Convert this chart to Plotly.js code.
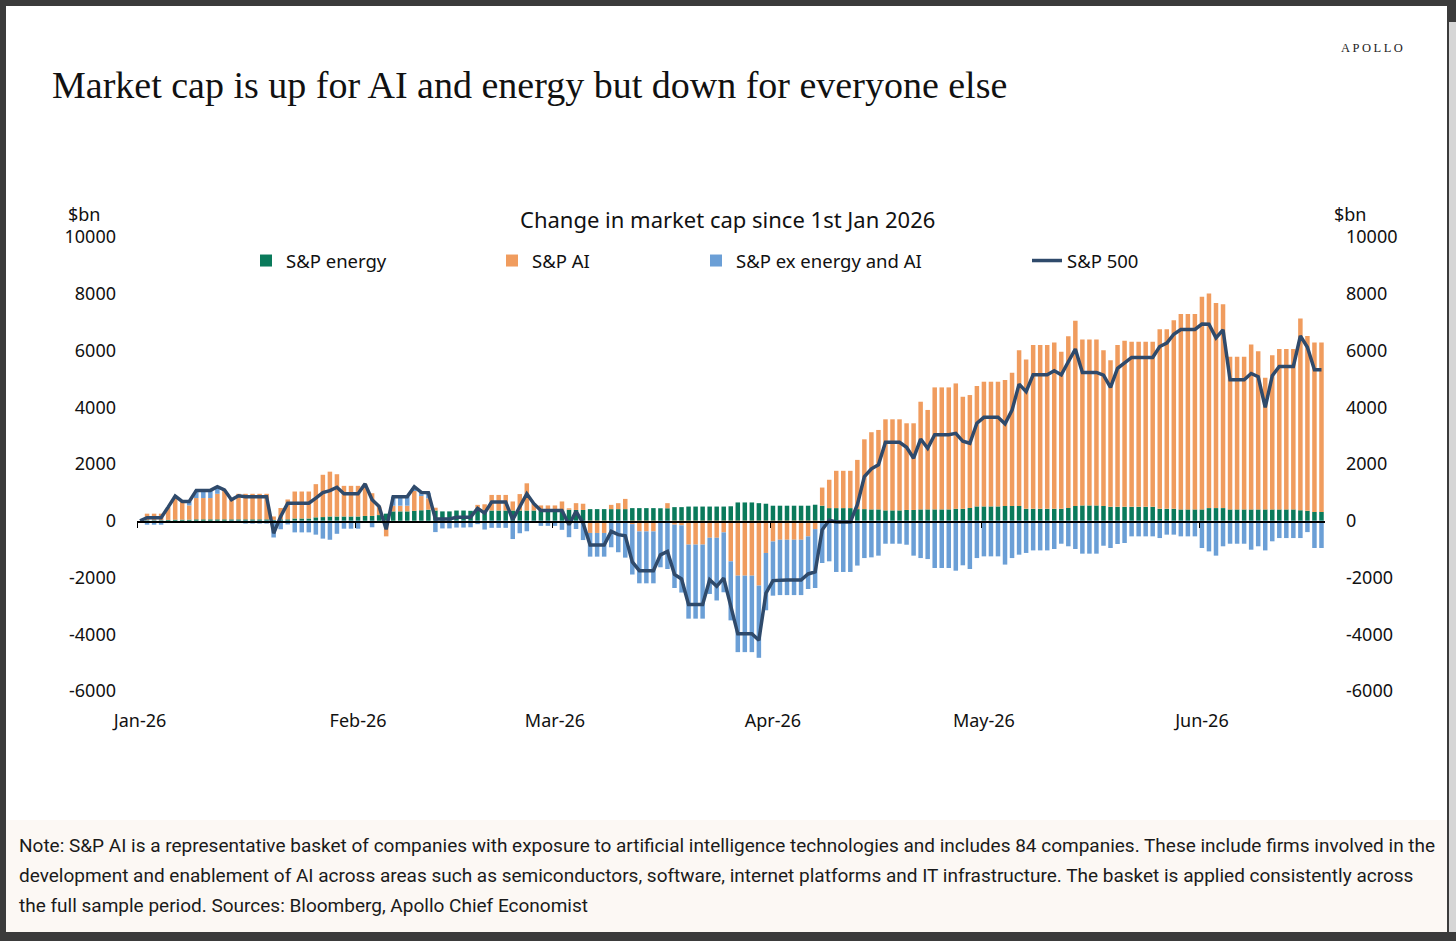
<!DOCTYPE html>
<html>
<head>
<meta charset="utf-8">
<script src="https://cdn.plot.ly/plotly-3.0.1.min.js"></script>
<style>
  html, body { margin: 0; padding: 0; background: #3b3b3b; }
  #chart { width: 1456px; height: 941px; }
</style>
</head>
<body>
<div id="chart"></div>
<script>
// ── data: change in market cap since 1 Jan 2026, $bn, one value per calendar day ──
const startDate = '2026-01-01';

const energy = [
  // Jan
  0, 20, 20, 20, 30, 40, 40, 40, 50, 50, 50, 50, 50, 50, 50, 50, 50, 50, 50, 30,
  50, 50, 80, 80, 80, 120, 130, 150, 150, 150, 150,
  // Feb
  150, 170, 170, 200, 250, 330, 330, 330, 350, 370, 390, 360, 330, 330, 360, 360,
  350, 360, 360, 360, 360, 360, 360, 360, 360, 360, 360, 360,
  // Mar
  360, 360, 390, 380, 380, 410, 410, 410, 410, 410, 410, 445, 445, 445, 445, 440,
  440, 480, 480, 500, 500, 500, 500, 500, 500, 510, 645, 645, 645, 620, 600,
  // Apr
  530, 530, 530, 530, 530, 530, 565, 530, 445, 445, 445, 445, 410, 410, 400, 400,
  365, 365, 365, 380, 380, 400, 400, 400, 400, 400, 420, 420, 450, 505,
  // May
  505, 505, 505, 520, 520, 520, 420, 420, 420, 420, 420, 420, 450, 520, 540, 540,
  540, 520, 490, 490, 490, 490, 490, 490, 490, 420, 420, 420, 400, 400, 400,
  // Jun
  400, 445, 445, 445, 400, 400, 400, 400, 400, 400, 400, 400, 400, 400, 370, 350,
  310, 310
];

const ai = [
  // Jan
  0, 230, 230, 230, 450, 830, 640, 500, 750, 750, 750, 900, 1040, 750, 900, 900,
  900, 900, 900, 120, 400, 700, 950, 950, 950, 1170, 1490, 1580, 1490, 1080, 1080,
  // Feb
  1080, 1130, 800, 300, -550, 200, 200, 200, 700, 500, 400, 100, 0, 0, 0, 0,
  0, 200, 220, 550, 550, 550, 320, 580, 960, 260, 180, 180,
  // Mar
  180, 320, 50, 240, 220, -430, -430, -430, 150, 210, 360, -120, -375, -375, -375, 0,
  180, -140, -160, -840, -840, -840, -600, -600, -410, -1430, -1935, -1935, -1935, -2285, -1135,
  // Apr
  -730, -670, -670, -670, -670, -550, -295, 640, 1000, 1315, 1315, 1315, 1735, 2460, 2720, 2800,
  3210, 3210, 3210, 3055, 3055, 3795, 3505, 4300, 4300, 4300, 4420, 3950, 3980, 4245,
  // May
  4395, 4395, 4395, 4440, 4695, 5490, 5265, 5770, 5770, 5770, 5860, 5535, 6055, 6525, 5845, 5845,
  5845, 5490, 5170, 5700, 5850, 5815, 5815, 5815, 5815, 6330, 6330, 6645, 6890, 6890, 6890,
  // Jun
  7490, 7560, 7230, 7185, 5380, 5380, 5380, 5810, 5575, 4640, 5435, 5650, 5650, 5650, 6755, 6165,
  5970, 5970
];

const exEnergyAi = [
  // Jan
  0, -140, -140, -140, 0, 0, 0, 140, 270, 270, 270, 250, 0, -60, -70, -100,
  -100, -100, -100, -590, -300, -130, -410, -410, -410, -490, -630, -670, -460, -280, -280,
  // Feb
  -280, 0, -230, 0, 0, 320, 320, 320, 150, 130, 200, -400, -270, -270, -240, -240,
  -230, -120, -310, -250, -250, -250, -645, -440, -370, -20, -180, -180,
  // Mar
  -180, -320, -580, -290, -680, -835, -835, -835, -935, -1110, -1300, -1775, -1830, -1830, -1830, -1640,
  -1700, -2230, -2370, -2610, -2610, -2610, -1980, -2210, -2110, -2080, -2695, -2695, -2695, -2545, -2020,
  // Apr
  -1910, -1950, -1950, -1950, -1950, -1855, -2075, -1490, -1430, -1805, -1805, -1805, -1580, -1315, -1290, -1230,
  -810, -810, -810, -845, -1230, -1315, -1350, -1665, -1665, -1665, -1760, -1570, -1700, -1315,
  // May
  -1255, -1255, -1255, -1545, -1315, -1195, -1135, -1045, -1045, -1045, -995, -810, -900, -995, -1160, -1160,
  -1160, -880, -960, -820, -785, -550, -550, -550, -550, -610, -490, -490, -550, -550, -550,
  // Jun
  -960, -1080, -1230, -900, -810, -810, -810, -1020, -900, -1045, -725, -610, -610, -610, -610, -400,
  -960, -960
];

const sp500 = [
  // Jan
  0, 110, 110, 110, 480, 870, 680, 680, 1070, 1070, 1070, 1200, 1090, 740, 880, 850,
  850, 850, 850, -440, 150, 620, 620, 620, 620, 800, 990, 1060, 1180, 950, 950,
  // Feb
  950, 1300, 740, 500, -300, 850, 850, 850, 1200, 1000, 990, 60, 60, 60, 120, 120,
  120, 440, 270, 660, 660, 660, 35, 500, 950, 600, 360, 360,
  // Mar
  360, 360, -140, 330, -80, -855, -855, -855, -375, -490, -530, -1450, -1760, -1760, -1760, -1200,
  -1080, -1890, -2050, -2950, -2950, -2950, -2080, -2310, -2020, -3000, -3985, -3985, -3985, -4210, -2555,
  // Apr
  -2110, -2090, -2090, -2090, -2090, -1875, -1805, -320, 15, -45, -45, -45, 565, 1555, 1830, 1970,
  2765, 2765, 2765, 2590, 2205, 2880, 2555, 3035, 3035, 3035, 3080, 2800, 2730, 3435,
  // May
  3645, 3645, 3645, 3415, 3900, 4815, 4550, 5145, 5145, 5145, 5285, 5145, 5605, 6050, 5225, 5225,
  5225, 5130, 4700, 5370, 5555, 5755, 5755, 5755, 5755, 6140, 6260, 6575, 6740, 6740, 6740,
  // Jun
  6930, 6925, 6445, 6730, 4970, 4970, 4970, 5190, 5075, 3995, 5110, 5440, 5440, 5440, 6515, 6115,
  5320, 5320
];

const monthTicks  = ['2026-01-01', '2026-02-01', '2026-03-01', '2026-04-01', '2026-05-01', '2026-06-01'];
const monthLabels = ['Jan-26', 'Feb-26', 'Mar-26', 'Apr-26', 'May-26', 'Jun-26'];
const yTicks      = [-6000, -4000, -2000, 0, 2000, 4000, 6000, 8000, 10000];

const noteLines = [
  'Note: S&P AI is a representative basket of companies with exposure to artificial intelligence technologies and includes 84 companies. These include firms involved in the',
  'development and enablement of AI across areas such as semiconductors, software, internet platforms and IT infrastructure. The basket is applied consistently across',
  'the full sample period. Sources: Bloomberg, Apollo Chief Economist'
];

// ── colours / fonts ───────────────────────────────────────────────────────────
const GREEN  = '#0a7a5b';
const ORANGE = '#f09c5e';
const BLUE   = '#6b9fd6';
const NAVY   = '#2f4a6b';
const SANS   = '"Noto Sans", "Open Sans", sans-serif';
const SERIF  = '"Liberation Serif", "DejaVu Serif", serif';

// ── helpers ───────────────────────────────────────────────────────────────────
const DAY = 86400000;
const t0 = Date.parse(startDate + 'T00:00:00Z');
function dayStr(d) {
  return new Date(t0 + d * DAY).toISOString().slice(0, 19).replace('T', ' ');
}
const dates = energy.map(function (_, i) { return dayStr(i); });
const xRange = [dayStr(-0.43), dayStr(energy.length - 0.5)];
// month boundaries sit half a day left of the 1st's bar
const boundaryTicks = monthTicks.map(function (m) {
  return dayStr((Date.parse(m + 'T00:00:00Z') - t0) / DAY - 0.4);
});

// plot-area pixel box, used to place decorations in paper coords
const L = 137, R = 1325, T = 237, B = 691;
function px(x) { return (x - L) / (R - L); }
function py(y) { return (B - y) / (B - T); }

// ── traces ────────────────────────────────────────────────────────────────────
function barTrace(name, values, color, legendId) {
  return {
    type: 'bar', name: name, x: dates, y: values,
    marker: { color: color, line: { width: 0 } },
    legend: legendId, hoverinfo: 'x+y+name'
  };
}

const traces = [
  barTrace('S&P energy', energy, GREEN, 'legend'),
  barTrace('S&P AI', ai, ORANGE, 'legend2'),
  barTrace('S&P ex energy and AI', exEnergyAi, BLUE, 'legend3'),
  // the line lives on the overlay axes (same ranges) so the zero axis and right scale are drawn
  {
    type: 'scatter', mode: 'lines', name: 'S&P 500', x: dates, y: sp500,
    xaxis: 'x2', yaxis: 'y2',
    line: { color: NAVY, width: 3.5 }, legend: 'legend4'
  }
];

// ── layout ────────────────────────────────────────────────────────────────────
function legendAt(x) {
  return {
    x: px(x), y: py(261), xanchor: 'left', yanchor: 'middle',
    orientation: 'h', bgcolor: 'rgba(0,0,0,0)', borderwidth: 0,
    font: { family: SANS, size: 18.5, color: '#111' }
  };
}

const yCommon = {
  range: [-6000, 10000], tickvals: yTicks, ticktext: yTicks.map(String),
  showgrid: false, zeroline: false, showline: false, ticks: '',
  tickfont: { family: SANS, size: 18, color: '#111' }, ticklabelstandoff: 20, fixedrange: true
};

const layout = {
  width: 1456, height: 941,
  margin: { l: L, r: 1456 - R, t: T, b: 941 - B, pad: 0 },
  paper_bgcolor: '#3b3b3b', plot_bgcolor: 'rgba(0,0,0,0)',
  barmode: 'relative', bargap: 0.36,
  showlegend: true,
  title: {
    text: 'Market cap is up for AI and energy but down for everyone else',
    xref: 'container', yref: 'container', x: 52 / 1456, xanchor: 'left',
    y: 1 - 85 / 941, yanchor: 'middle',
    font: { family: SERIF, size: 38, color: '#111' }
  },
  xaxis: {
    type: 'date', range: xRange, tickvals: monthTicks, ticktext: monthLabels,
    showgrid: false, zeroline: false, showline: false, ticks: '',
    tickfont: { family: SANS, size: 18, color: '#111' }, ticklabelstandoff: 17
  },
  xaxis2: {
    type: 'date', overlaying: 'x', anchor: 'free', position: py(521), range: xRange,
    tickvals: boundaryTicks, showticklabels: false, showgrid: false, zeroline: false,
    showline: true, linecolor: '#000', linewidth: 1.5,
    ticks: 'outside', ticklen: 5, tickcolor: '#000', tickwidth: 1.2
  },
  yaxis: Object.assign({}, yCommon, { side: 'left' }),
  yaxis2: Object.assign({}, yCommon, { side: 'right', overlaying: 'y', anchor: 'x' }),
  legend: legendAt(246),
  legend2: legendAt(492),
  legend3: legendAt(696),
  legend4: legendAt(1027),
  shapes: [
    { type: 'rect', xref: 'paper', yref: 'paper', layer: 'below',
      x0: px(6), x1: px(1447), y0: py(6), y1: py(820), fillcolor: '#ffffff', line: { width: 0 } },
    { type: 'rect', xref: 'paper', yref: 'paper', layer: 'below',
      x0: px(6), x1: px(1447), y0: py(820), y1: py(932), fillcolor: '#fcf8f4', line: { width: 0 } },
    { type: 'rect', xref: 'paper', yref: 'paper', layer: 'below',
      x0: px(1449), x1: px(1456), y0: py(22), y1: py(932), fillcolor: '#d6d6d6', line: { width: 0 } }
  ],
  annotations: [
    { text: 'Change in market cap since 1st Jan 2026', xref: 'paper', yref: 'paper',
      x: px(727), y: py(219), xanchor: 'center', yanchor: 'middle', showarrow: false,
      font: { family: SANS, size: 22, color: '#111' } },
    { text: '$bn', xref: 'paper', yref: 'paper', x: px(66), y: py(214),
      xanchor: 'left', yanchor: 'middle', showarrow: false,
      font: { family: SANS, size: 18, color: '#111' } },
    { text: '$bn', xref: 'paper', yref: 'paper', x: px(1332), y: py(214),
      xanchor: 'left', yanchor: 'middle', showarrow: false,
      font: { family: SANS, size: 18, color: '#111' } },
    { text: 'A\u2009P\u2009O\u2009L\u2009L\u2009O', xref: 'paper', yref: 'paper', x: px(1405), y: py(48),
      xanchor: 'right', yanchor: 'middle', showarrow: false,
      font: { family: SERIF, size: 12.5, color: '#222' } }
  ].concat(noteLines.map(function (line, i) {
    return {
      text: line, xref: 'paper', yref: 'paper', x: px(17), y: py(845 + 30 * i),
      xanchor: 'left', yanchor: 'middle', showarrow: false,
      font: { family: 'Roboto, sans-serif', size: 19, color: '#1a1a1a' }
    };
  }))
};

Plotly.newPlot('chart', traces, layout, { staticPlot: true, displayModeBar: false });
</script>
</body>
</html>
